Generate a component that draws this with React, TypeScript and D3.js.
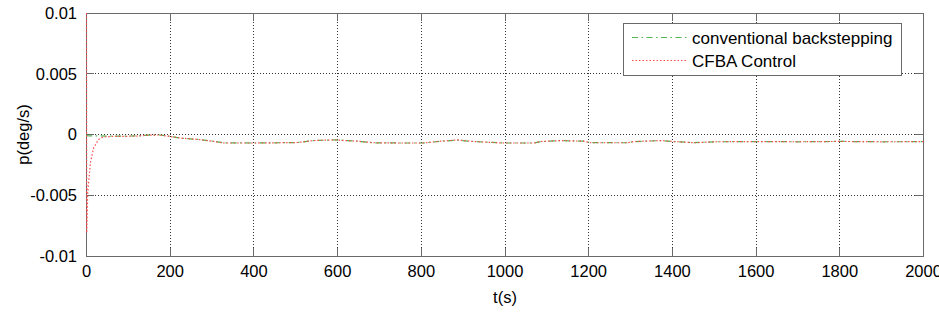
import React from "react";
import * as d3 from "d3";

const xTicks = [0, 200, 400, 600, 800, 1000, 1200, 1400, 1600, 1800, 2000];
const yTicks = [-0.01, -0.005, 0, 0.005, 0.01];
const yTickLabels = ["-0.01", "-0.005", "0", "0.005", "0.01"];

const greenTime = [0, 1, 10, 30, 60, 90, 124, 150, 175, 196, 225, 265, 304, 328, 400, 460, 504, 543, 590, 647, 686, 750, 805, 846, 886, 925, 997, 1069, 1085, 1133, 1188, 1204, 1292, 1308, 1372, 1404, 1452, 1500, 1600, 1700, 1800, 1900, 2000];
const greenValues = [-0.00005, -0.0001, -0.00011, -0.00012, -0.00013, -0.00013, -0.00011, -0.00005, -0.00004, -0.00013, -0.0003, -0.0004, -0.00056, -0.00069, -0.0007, -0.00068, -0.00066, -0.0005, -0.00045, -0.00055, -0.00068, -0.0007, -0.0007, -0.00056, -0.00046, -0.00058, -0.0007, -0.0007, -0.00059, -0.0005, -0.00055, -0.00067, -0.00068, -0.00059, -0.0005, -0.00058, -0.00067, -0.0006, -0.00058, -0.0006, -0.00057, -0.0006, -0.00059];

const redTime = [0, 0.5, 3, 9.5, 17, 29, 41, 60, 90, 124, 150, 175, 196, 225, 265, 304, 328, 400, 460, 504, 543, 590, 647, 686, 750, 805, 846, 886, 925, 997, 1069, 1085, 1133, 1188, 1204, 1292, 1308, 1372, 1404, 1452, 1500, 1600, 1700, 1800, 1900, 2000];
const redValues = [0.01, -0.0081, -0.0047, -0.0023, -0.0011, -0.0004, -0.0002, -0.00016, -0.00016, -0.00012, -0.00005, -0.00004, -0.00014, -0.0003, -0.0004, -0.00057, -0.0007, -0.0007, -0.00068, -0.00066, -0.0005, -0.00044, -0.00055, -0.00068, -0.0007, -0.0007, -0.00055, -0.00045, -0.00058, -0.0007, -0.0007, -0.00058, -0.0005, -0.00055, -0.00068, -0.00068, -0.00058, -0.0005, -0.00058, -0.00068, -0.0006, -0.00058, -0.0006, -0.00057, -0.0006, -0.00059];

const legendLabels = ["conventional backstepping", "CFBA Control"];

const W = 939;
const H = 312;
const L = 86;
const R = 923;
const T = 13;
const B = 256;
const FONT = "'Liberation Sans', Arial, sans-serif";
const GREEN = "#4fb44f";
const RED = "#ff4a4a";
const FRAME = "#6a6a6a";

export default function App() {
  const x = d3.scaleLinear().domain([0, 2000]).range([L + 0.5, R + 0.5]);
  const y = d3.scaleLinear().domain([-0.01, 0.01]).range([B, T]);
  const greenLine = d3
    .line<number>()
    .x((_, i) => x(greenTime[i]))
    .y((d) => y(d));
  const redLine = d3
    .line<number>()
    .x((_, i) => x(redTime[i]))
    .y((d) => y(d));
  const px = (v: number) => Math.floor(v) + 0.5;
  const tick = 8;

  return (
    <div style={{ position: "fixed", left: 0, top: 0 }}>
      <svg width={W} height={H} style={{ display: "block", background: "#fff" }}>
        <defs>
          <clipPath id="plotClip">
            <rect x={L - 1} y={T - 1} width={R - L + 2} height={B - T + 2} />
          </clipPath>
        </defs>
        <rect x={0} y={0} width={W} height={H} fill="#fff" />
        {/* grid */}
        {xTicks.slice(1, -1).map((t) => (
          <line key={"gx" + t} x1={px(x(t))} x2={px(x(t))} y1={T} y2={B} stroke="#333" strokeWidth={1} strokeDasharray="1,2" />
        ))}
        {yTicks.slice(1, -1).map((t) => (
          <line key={"gy" + t} x1={L} x2={R} y1={px(y(t))} y2={px(y(t))} stroke="#333" strokeWidth={1} strokeDasharray="1,2" />
        ))}
        {/* ticks */}
        {xTicks.map((t) => (
          <g key={"tx" + t}>
            <line x1={px(x(t))} x2={px(x(t))} y1={B} y2={B - tick} stroke={FRAME} />
            <line x1={px(x(t))} x2={px(x(t))} y1={T} y2={T + tick} stroke={FRAME} />
            <text x={x(t)} y={277} textAnchor="middle" fontFamily={FONT} fontSize={16.5} fill="#000">
              {t}
            </text>
          </g>
        ))}
        {yTicks.map((t, i) => (
          <g key={"ty" + t}>
            <line x1={L} x2={L + tick} y1={px(y(t))} y2={px(y(t))} stroke={FRAME} />
            <line x1={R} x2={R - tick} y1={px(y(t))} y2={px(y(t))} stroke={FRAME} />
            <text x={77} y={y(t)} dy="0.36em" textAnchor="end" fontFamily={FONT} fontSize={16.5} fill="#000">
              {yTickLabels[i]}
            </text>
          </g>
        ))}
        {/* frame */}
        <rect x={L + 0.5} y={T + 0.5} width={R - L} height={B - T} fill="none" stroke={FRAME} strokeWidth={1} />
        {/* series */}
        <g clipPath="url(#plotClip)">
          <path d={greenLine(greenValues) || ""} fill="none" stroke={GREEN} strokeWidth={1.2} strokeDasharray="6,3.5,1.5,3.5" />
          <path d={redLine(redValues) || ""} fill="none" stroke={RED} strokeWidth={1.2} strokeDasharray="1.5,2" />
        </g>
        {/* legend */}
        <rect x={623.5} y={23.5} width={278} height={52} fill="#fff" stroke={FRAME} strokeWidth={1} />
        <line x1={632} x2={687} y1={37.5} y2={37.5} stroke={GREEN} strokeWidth={1.2} strokeDasharray="6,3.5,1.5,3.5" />
        <text x={692} y={37.5} dy="0.36em" fontFamily={FONT} fontSize={17} fill="#000">
          {legendLabels[0]}
        </text>
        <line x1={632} x2={687} y1={60.5} y2={60.5} stroke={RED} strokeWidth={1.2} strokeDasharray="1.5,2" />
        <text x={692} y={60.5} dy="0.36em" fontFamily={FONT} fontSize={17} fill="#000">
          {legendLabels[1]}
        </text>
        {/* axis labels */}
        <text x={505} y={303} textAnchor="middle" fontFamily={FONT} fontSize={16.5} fill="#000">
          t(s)
        </text>
        <text
          transform={`translate(29,${(T + B) / 2}) rotate(-90)`}
          textAnchor="middle"
          fontFamily={FONT}
          fontSize={16.5}
          fill="#000"
        >
          p(deg/s)
        </text>
      </svg>
    </div>
  );
}
